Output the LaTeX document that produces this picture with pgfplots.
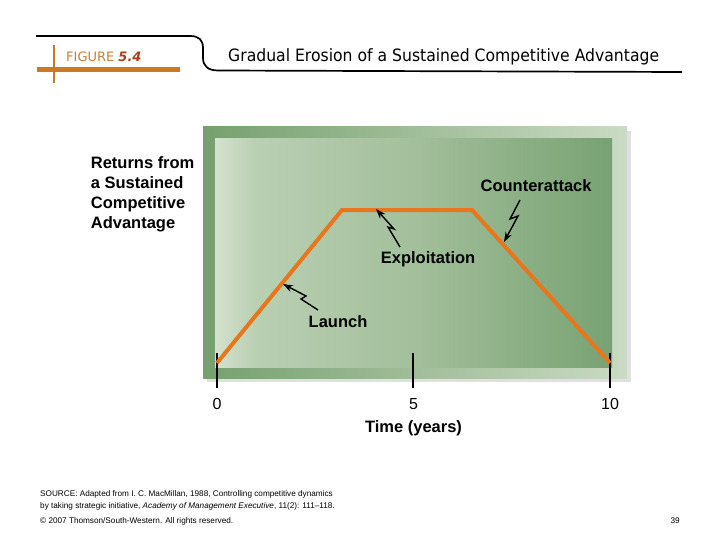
\documentclass[border=0pt]{standalone}
\usepackage{pgfplots}
\pgfplotsset{compat=1.18}
\usepackage{fontspec}
\setmainfont{Liberation Sans}
\newfontfamily\titlefont[FakeStretch=0.92]{DejaVu Sans}
\newfontfamily\figfont{DejaVu Sans}
\usetikzlibrary{arrows.meta}
\definecolor{curve}{HTML}{E8761C}
\definecolor{barc}{HTML}{C97A22}
\definecolor{figc}{HTML}{C8803C}
\definecolor{numc}{HTML}{A8401A}
\definecolor{outL}{HTML}{76A06F}
\definecolor{outR}{HTML}{CADBC3}
\definecolor{inA}{HTML}{D4E1CE}
\definecolor{inB}{HTML}{BAD0B3}
\definecolor{inC}{HTML}{A3BF9B}
\definecolor{inD}{HTML}{78A273}
\pgfdeclarehorizontalshading{innershade}{100bp}{color(0bp)=(inA); color(25bp)=(inA); color(30bp)=(inB); color(50bp)=(inC); color(75bp)=(inD); color(100bp)=(inD)}
\begin{document}
\begin{tikzpicture}
\begin{scope}[x=1pt,y=-1pt]
\path[use as bounding box, fill=white] (0,0) rectangle (720,540);
% header
\draw[line width=1.7pt] (36,36) -- (190,36) .. controls (199,36) and (203,40) .. (203,48) -- (203,58) .. controls (203,66) and (208,70.5) .. (218,70.5) -- (682,72);
\fill[barc] (37,67.5) rectangle (180,72.5);
\fill[barc] (52.7,45) rectangle (55.3,83);
\node[anchor=base west, inner sep=0pt, font=\figfont\fontsize{13}{15}\selectfont] at (66,62) {\textcolor{figc}{FIGURE} \textcolor{numc}{\bfseries\itshape 5.4}};
\node[anchor=base west, inner sep=0pt, font=\titlefont\fontsize{17}{20}\selectfont] at (228,62) {Gradual Erosion of a Sustained Competitive Advantage};
% chart frame
\fill[black!12] (207,131) rectangle (631,382);
\shade[left color=outL, right color=outR] (203,127) rectangle (627,378);
\shade[shading=innershade] (215,139) rectangle (612,367);
% tick lines
\foreach \xx in {217,413,610} \draw[line width=1.6pt] (\xx,353) -- (\xx,388);
% footer
\node[anchor=base west, inner sep=0pt, font=\fontsize{8.2}{10}\selectfont] at (40,496) {SOURCE: Adapted from I. C. MacMillan, 1988, Controlling competitive dynamics};
\node[anchor=base west, inner sep=0pt, font=\fontsize{8.2}{10}\selectfont] at (40,508) {by taking strategic initiative, \textit{Academy of Management Executive}, 11(2): 111--118.};
\node[anchor=base west, inner sep=0pt, font=\fontsize{8.2}{10}\selectfont] at (40,523) {\textcopyright\ 2007 Thomson/South-Western. All rights reserved.};
\node[anchor=base east, inner sep=0pt, font=\fontsize{8.2}{10}\selectfont] at (680,523) {39};
\end{scope}
\begin{axis}[at={(217pt,-363pt)}, anchor=south west, scale only axis,
  width=393pt, height=153pt, xmin=0, xmax=10, ymin=0, ymax=1,
  axis line style={draw=none}, ytick=\empty, xtick={0,5,10},
  major tick length=0pt, clip=false,
  /pgf/number format/assume math mode=true,
  xticklabel style={font=\fontsize{16}{18}\selectfont, anchor=center, yshift=-41pt},
  xlabel={Time (years)},
  xlabel style={font=\bfseries\fontsize{16.5}{20}\selectfont, at={(axis description cs:0.5,0)}, anchor=center, yshift=-65pt},
  ylabel={Returns from\\a Sustained\\Competitive\\Advantage},
  ylabel style={rotate=-90, font=\bfseries\fontsize{16.5}{20}\selectfont, align=left, at={(axis description cs:-0.330,1.105)}, anchor=west},
]
\addplot[curve, line width=4pt, line join=miter] coordinates {(0,0) (3.18,1) (6.49,1) (10,0)};
\node[font=\bfseries\fontsize{16.5}{20}\selectfont] at (axis cs:8.12,1.157) {Counterattack};
\node[font=\bfseries\fontsize{16.5}{20}\selectfont] at (axis cs:5.37,0.680) {Exploitation};
\node[font=\bfseries\fontsize{16.5}{20}\selectfont] at (axis cs:3.08,0.268) {Launch};
\end{axis}
\begin{scope}[x=1pt,y=-1pt]
\draw[line width=1.4pt, -{Stealth[length=10pt,width=7pt]}] (520,200) -- (510,219) -- (518,216) -- (504,242);
\draw[line width=1.4pt, -{Stealth[length=10pt,width=7pt]}] (400,247) -- (388,227) -- (394,229) -- (376,209);
\draw[line width=1.4pt, -{Stealth[length=10pt,width=7pt]}] (318,310) -- (301,299) -- (306,296) -- (283,284);
\end{scope}
\end{tikzpicture}
\end{document}
